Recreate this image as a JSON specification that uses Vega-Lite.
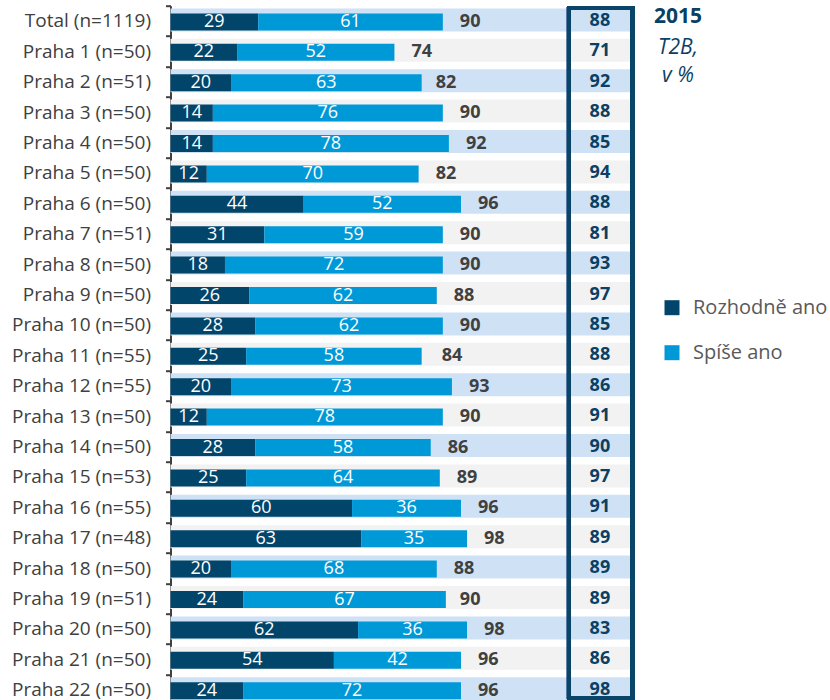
{
  "$schema": "https://vega.github.io/schema/vega-lite/v6.json",
  "autosize": {"type": "none"},
  "width": 466,
  "height": 694.3,
  "padding": {"left": 170.5, "top": 5.7, "right": 193.5, "bottom": 0},
  "background": "white",
  "title": {
    "text": "2015",
    "subtitle": ["T2B,", "v %"],
    "anchor": "start",
    "frame": "group",
    "align": "center",
    "dx": 507.5,
    "dy": 89,
    "offset": 0,
    "font": "Open Sans",
    "fontSize": 21,
    "fontWeight": "bold",
    "color": "#0b3f63",
    "subtitleFont": "Open Sans",
    "subtitleFontSize": 21,
    "subtitleFontStyle": "italic",
    "subtitleColor": "#0b3f63",
    "subtitleLineHeight": 28,
    "subtitlePadding": 10
  },
  "data": {
    "values": [
      {"label": "Total (n=1119)", "Rozhodně ano": 29, "Spíše ano": 61, "total": 90, "t2b2015": 88},
      {"label": "Praha 1 (n=50)", "Rozhodně ano": 22, "Spíše ano": 52, "total": 74, "t2b2015": 71},
      {"label": "Praha 2 (n=51)", "Rozhodně ano": 20, "Spíše ano": 63, "total": 82, "t2b2015": 92},
      {"label": "Praha 3 (n=50)", "Rozhodně ano": 14, "Spíše ano": 76, "total": 90, "t2b2015": 88},
      {"label": "Praha 4 (n=50)", "Rozhodně ano": 14, "Spíše ano": 78, "total": 92, "t2b2015": 85},
      {"label": "Praha 5 (n=50)", "Rozhodně ano": 12, "Spíše ano": 70, "total": 82, "t2b2015": 94},
      {"label": "Praha 6 (n=50)", "Rozhodně ano": 44, "Spíše ano": 52, "total": 96, "t2b2015": 88},
      {"label": "Praha 7 (n=51)", "Rozhodně ano": 31, "Spíše ano": 59, "total": 90, "t2b2015": 81},
      {"label": "Praha 8 (n=50)", "Rozhodně ano": 18, "Spíše ano": 72, "total": 90, "t2b2015": 93},
      {"label": "Praha 9 (n=50)", "Rozhodně ano": 26, "Spíše ano": 62, "total": 88, "t2b2015": 97},
      {"label": "Praha 10 (n=50)", "Rozhodně ano": 28, "Spíše ano": 62, "total": 90, "t2b2015": 85},
      {"label": "Praha 11 (n=55)", "Rozhodně ano": 25, "Spíše ano": 58, "total": 84, "t2b2015": 88},
      {"label": "Praha 12 (n=55)", "Rozhodně ano": 20, "Spíše ano": 73, "total": 93, "t2b2015": 86},
      {"label": "Praha 13 (n=50)", "Rozhodně ano": 12, "Spíše ano": 78, "total": 90, "t2b2015": 91},
      {"label": "Praha 14 (n=50)", "Rozhodně ano": 28, "Spíše ano": 58, "total": 86, "t2b2015": 90},
      {"label": "Praha 15 (n=53)", "Rozhodně ano": 25, "Spíše ano": 64, "total": 89, "t2b2015": 97},
      {"label": "Praha 16 (n=55)", "Rozhodně ano": 60, "Spíše ano": 36, "total": 96, "t2b2015": 91},
      {"label": "Praha 17 (n=48)", "Rozhodně ano": 63, "Spíše ano": 35, "total": 98, "t2b2015": 89},
      {"label": "Praha 18 (n=50)", "Rozhodně ano": 20, "Spíše ano": 68, "total": 88, "t2b2015": 89},
      {"label": "Praha 19 (n=51)", "Rozhodně ano": 24, "Spíše ano": 67, "total": 90, "t2b2015": 89},
      {"label": "Praha 20 (n=50)", "Rozhodně ano": 62, "Spíše ano": 36, "total": 98, "t2b2015": 83},
      {"label": "Praha 21 (n=50)", "Rozhodně ano": 54, "Spíše ano": 42, "total": 96, "t2b2015": 86},
      {"label": "Praha 22 (n=50)", "Rozhodně ano": 24, "Spíše ano": 72, "total": 96, "t2b2015": 98}
    ]
  },
  "encoding": {
    "y": {
      "field": "label",
      "type": "nominal",
      "sort": null,
      "title": null,
      "scale": {"paddingInner": 0, "paddingOuter": 0, "range": [0, 699.2]},
      "axis": {
        "tickBand": "extent",
        "domainColor": "#404040",
        "domainWidth": 2,
        "tickColor": "#404040",
        "tickWidth": 2,
        "tickSize": 5,
        "labelPadding": 15,
        "labelFont": "Open Sans",
        "labelFontSize": 19,
        "labelColor": "#404040",
        "labelLimit": 300
      }
    }
  },
  "layer": [
    {
      "transform": [
        {"window": [{"op": "row_number", "as": "rn"}]}
      ],
      "mark": {"type": "bar", "height": 23, "yOffset": -1},
      "encoding": {
        "x": {"datum": 0, "type": "quantitative", "scale": {"domain": [0, 154], "nice": false, "zero": true}, "axis": null},
        "x2": {"datum": 151.9},
        "fill": {"condition": {"test": "datum.rn % 2 == 1", "value": "#cfe2f5"}, "value": "#f2f2f2"}
      }
    },
    {
      "transform": [
        {"fold": ["Rozhodně ano", "Spíše ano"], "as": ["key", "value"]}
      ],
      "mark": {"type": "bar", "height": 17, "yOffset": 1},
      "encoding": {
        "x": {"field": "value", "type": "quantitative", "stack": "zero"},
        "color": {
          "field": "key",
          "type": "nominal",
          "scale": {"domain": ["Rozhodně ano", "Spíše ano"], "range": ["#02456b", "#0099d8"]},
          "legend": {"title": null}
        },
        "order": {"field": "key", "sort": "ascending"}
      }
    },
    {
      "transform": [
        {"fold": ["Rozhodně ano", "Spíše ano"], "as": ["key", "value"]}
      ],
      "mark": {"type": "text", "font": "Open Sans", "fontSize": 18, "color": "white", "yOffset": 1},
      "encoding": {
        "x": {"field": "value", "type": "quantitative", "stack": "zero", "bandPosition": 0.5},
        "text": {"field": "value", "type": "quantitative"},
        "order": {"field": "key", "sort": "ascending"},
        "detail": {"field": "key"}
      }
    },
    {
      "mark": {"type": "text", "font": "Open Sans", "fontSize": 18, "fontWeight": "bold", "color": "#404040", "align": "left", "dx": 17, "yOffset": 1},
      "encoding": {
        "x": {"field": "total", "type": "quantitative"},
        "text": {"field": "total", "type": "quantitative"}
      }
    },
    {
      "mark": {"type": "text", "font": "Open Sans", "fontSize": 18, "fontWeight": "bold", "color": "#0b3f63", "align": "center", "yOffset": 0},
      "encoding": {
        "x": {"datum": 141.9, "type": "quantitative"},
        "text": {"field": "t2b2015", "type": "quantitative"}
      }
    },
    {
      "mark": {"type": "rect", "fill": null, "fillOpacity": 0, "stroke": "#0a4468", "strokeWidth": 3.5, "yOffset": 2.6, "y2Offset": -6.9},
      "encoding": {
        "x": {"datum": 131.6, "type": "quantitative"},
        "x2": {"datum": 152.7},
        "y": {"datum": "Total (n=1119)", "type": "nominal", "bandPosition": 0},
        "y2": {"datum": "Praha 22 (n=50)", "bandPosition": 1}
      }
    }
  ],
  "config": {
    "view": {"stroke": null},
    "legend": {
      "orient": "none",
      "legendX": 491.5,
      "legendY": 292,
      "symbolType": "square",
      "symbolSize": 225,
      "symbolStrokeWidth": 0,
      "labelFont": "Open Sans",
      "labelFontSize": 20,
      "labelColor": "#595959",
      "labelOffset": 11,
      "rowPadding": 25,
      "padding": 0,
      "labelLimit": 300
    }
  }
}
